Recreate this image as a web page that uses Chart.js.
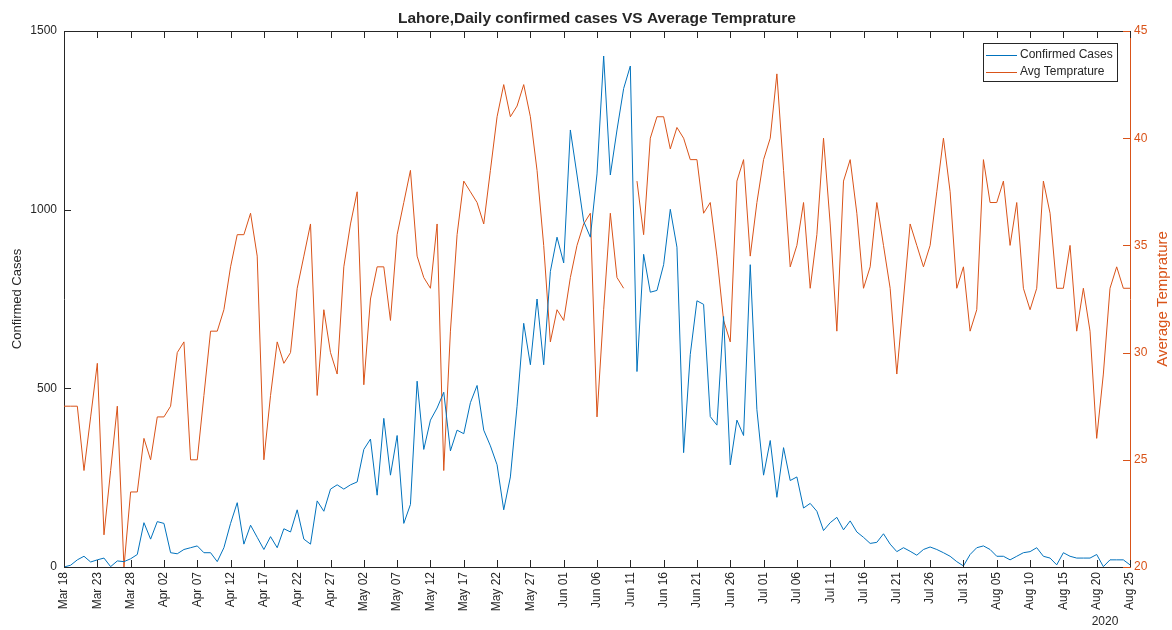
<!DOCTYPE html>
<html>
<head>
<meta charset="utf-8">
<title>Lahore, Daily confirmed cases VS Average Temprature</title>
<script src="https://cdn.jsdelivr.net/npm/chart.js"></script>
<style>
    html, body { margin: 0; padding: 0; background: #fff; }
    #wrap { width: 1172px; height: 630px; }
</style>
</head>
<body>
<div id="wrap"><canvas id="chart" width="1172" height="630"></canvas></div>
<script>
// ===== DATA (one value per day, Mar 18 .. Aug 25 2020) =====

const tickLabels = [
    'Mar 18', 'Mar 23', 'Mar 28', 'Apr 02', 'Apr 07', 'Apr 12', 'Apr 17', 'Apr 22', 'Apr 27',
    'May 02', 'May 07', 'May 12', 'May 17', 'May 22', 'May 27', 'Jun 01', 'Jun 06', 'Jun 11',
    'Jun 16', 'Jun 21', 'Jun 26', 'Jul 01', 'Jul 06', 'Jul 11', 'Jul 16', 'Jul 21', 'Jul 26',
    'Jul 31', 'Aug 05', 'Aug 10', 'Aug 15', 'Aug 20', 'Aug 25'
];

const cases = [
    0, 5, 20, 30, 14, 20, 25, 1, 17, 15,
    23, 35, 124, 78, 127, 122, 40, 37, 49, 54,
    59, 40, 40, 15, 54, 122, 180, 64, 117, 83,
    49, 85, 54, 107, 98, 160, 78, 64, 185, 156,
    218, 230, 218, 230, 238, 329, 358, 201, 416, 257,
    368, 122, 175, 520, 329, 411, 445, 489, 325, 383,
    373, 460, 508, 383, 339, 286, 160, 252, 450, 682,
    566, 750, 566, 827, 923, 851, 1223, 1097, 967, 923,
    1100, 1430, 1097, 1223, 1339, 1402, 547, 875, 769, 774,
    846, 1001, 895, 320, 595, 745, 735, 421, 397, 701,
    286, 411, 368, 846, 440, 257, 354, 195, 334, 242,
    252, 165, 178, 156, 102, 124, 139, 104, 129, 98,
    83, 66, 69, 93, 64, 43, 54, 44, 33, 49,
    56, 49, 40, 30, 15, 3, 35, 54, 59, 49,
    30, 30, 20, 30, 40, 43, 54, 30, 25, 6,
    40, 30, 25, 25, 25, 35, 1, 20, 20, 20,
    6
];

// null = missing reading (gap in the line)
const temps = [
    27.5, 27.5, 27.5, 24.5, 27, 29.5, 21.5, 24.5, 27.5, 20,
    23.5, 23.5, 26, 25, 27, 27, 27.5, 30, 30.5, 25,
    25, 28, 31, 31, 32, 34, 35.5, 35.5, 36.5, 34.5,
    25, 28, 30.5, 29.5, 30, 33, 34.5, 36, 28, 32,
    30, 29, 34, 36, 37.5, 28.5, 32.5, 34, 34, 31.5,
    35.5, 37, 38.5, 34.5, 33.5, 33, 36, 24.5, 31, 35.5,
    38, 37.5, 37, 36, 38.5, 41, 42.5, 41, 41.5, 42.5,
    41, 38.5, 35, 30.5, 32, 31.5, 33.5, 35, 36, 36.5,
    27, 32, 36.5, 33.5, 33, null, 38, 35.5, 40, 41,
    41, 39.5, 40.5, 40, 39, 39, 36.5, 37, 34.5, 31.5,
    30.5, 38, 39, 34.5, 37, 39, 40, 43, 38.5, 34,
    35, 37, 33, 35.5, 40, 36, 31, 38, 39, 36.5,
    33, 34, 37, 35, 33, 29, 32.5, 36, 35, 34,
    35, 37.5, 40, 37.5, 33, 34, 31, 32, 39, 37,
    37, 38, 35, 37, 33, 32, 33, 38, 36.5, 33,
    33, 35, 31, 33, 31, 26, 29, 33, 34, 33,
    33
];

// ===== STYLE =====

const BLUE = '#0072BD';
const ORANGE = '#D95319';
const AXIS = '#262626';
const FONT = '"Liberation Sans", Arial, Helvetica, sans-serif';

// MATLAB-like box: top edge, inward ticks, legend and the loose labels
const matlabAxes = {
    id: 'matlabAxes',
    afterDraw(chart) {
        const { ctx, chartArea: a, scales } = chart;
        const tick = 7;
        ctx.save();
        ctx.lineWidth = 1;

        // top edge of the box
        ctx.strokeStyle = AXIS;
        ctx.beginPath();
        ctx.moveTo(a.left, a.top + 0.5);
        ctx.lineTo(a.right, a.top + 0.5);
        ctx.stroke();

        // x ticks, bottom and top, pointing inward
        ctx.beginPath();
        for (let i = 0; i < tickLabels.length; i++) {
            const px = Math.round(scales.x.getPixelForValue(i * 5)) + 0.5;
            ctx.moveTo(px, a.bottom);
            ctx.lineTo(px, a.bottom - tick);
            ctx.moveTo(px, a.top);
            ctx.lineTo(px, a.top + tick);
        }
        // left ticks
        scales.y.ticks.forEach(t => {
            const py = Math.round(scales.y.getPixelForValue(t.value)) + 0.5;
            ctx.moveTo(a.left, py);
            ctx.lineTo(a.left + tick, py);
        });
        ctx.stroke();

        // right ticks (orange)
        ctx.strokeStyle = ORANGE;
        ctx.beginPath();
        scales.y2.ticks.forEach(t => {
            const py = Math.round(scales.y2.getPixelForValue(t.value)) + 0.5;
            ctx.moveTo(a.right, py);
            ctx.lineTo(a.right - tick, py);
        });
        ctx.stroke();

        // title
        ctx.fillStyle = AXIS;
        ctx.font = 'bold 15.5px ' + FONT;
        ctx.textAlign = 'center';
        ctx.textBaseline = 'middle';
        ctx.fillText('Lahore,Daily confirmed cases VS Average Temprature', (a.left + a.right) / 2, 19);

        // axis titles
        ctx.font = '13px ' + FONT;
        ctx.save();
        ctx.translate(17, (a.top + a.bottom) / 2);
        ctx.rotate(-Math.PI / 2);
        ctx.fillText('Confirmed Cases', 0, 0);
        ctx.restore();

        ctx.fillStyle = ORANGE;
        ctx.font = '15px ' + FONT;
        ctx.save();
        ctx.translate(1163, (a.top + a.bottom) / 2);
        ctx.rotate(-Math.PI / 2);
        ctx.fillText('Average Temprature', 0, 0);
        ctx.restore();

        // year under the last ticks
        ctx.fillStyle = AXIS;
        ctx.font = '12px ' + FONT;
        ctx.fillText('2020', 1105, 622);

        // legend
        const lx = 983, ly = 43, lw = 134, lh = 38;
        ctx.fillStyle = '#fff';
        ctx.fillRect(lx, ly, lw, lh);
        ctx.strokeStyle = AXIS;
        ctx.strokeRect(lx + 0.5, ly + 0.5, lw, lh);
        chart.data.datasets.forEach((ds, i) => {
            const yy = ly + 12 + i * 17;
            ctx.strokeStyle = ds.borderColor;
            ctx.beginPath();
            ctx.moveTo(lx + 3, yy + 0.5);
            ctx.lineTo(lx + 34, yy + 0.5);
            ctx.stroke();
            ctx.fillStyle = AXIS;
            ctx.textAlign = 'left';
            ctx.fillText(ds.label, lx + 37, yy);
        });

        ctx.restore();
    }
};

const ctx = document.getElementById('chart').getContext('2d');

new Chart(ctx, {
    type: 'line',
    data: {
        datasets: [
            {
                label: 'Confirmed Cases',
                data: cases.map((v, i) => ({ x: i, y: v })),
                borderColor: BLUE,
                borderWidth: 1,
                pointRadius: 0,
                tension: 0,
                yAxisID: 'y'
            },
            {
                label: 'Avg Temprature',
                data: temps.map((v, i) => ({ x: i, y: v })),
                borderColor: ORANGE,
                borderWidth: 1,
                pointRadius: 0,
                tension: 0,
                yAxisID: 'y2'
            }
        ]
    },
    options: {
        responsive: false,
        animation: false,
        devicePixelRatio: 1,
        layout: { padding: { top: 31, left: 0, right: 0, bottom: 0 } },
        plugins: {
            legend: { display: false },
            title: { display: false },
            tooltip: { enabled: false }
        },
        scales: {
            x: {
                type: 'linear',
                min: 0,
                max: 160,
                grid: { display: false, drawTicks: false },
                border: { color: AXIS },
                ticks: {
                    stepSize: 5,
                    autoSkip: false,
                    minRotation: 90,
                    maxRotation: 90,
                    padding: 5,
                    color: AXIS,
                    font: { family: FONT, size: 12 },
                    callback: (value) => tickLabels[value / 5]
                },
                afterFit: (s) => { s.height = 63; }
            },
            y: {
                position: 'left',
                min: 0,
                max: 1500,
                grid: { display: false, drawTicks: false },
                border: { color: AXIS },
                ticks: {
                    stepSize: 500,
                    padding: 7,
                    color: AXIS,
                    font: { family: FONT, size: 12 },
                    callback: (value) => String(value)
                },
                afterFit: (s) => { s.width = 64; }
            },
            y2: {
                position: 'right',
                min: 20,
                max: 45,
                grid: { display: false, drawTicks: false },
                border: { color: ORANGE },
                ticks: {
                    stepSize: 5,
                    padding: 4,
                    color: ORANGE,
                    font: { family: FONT, size: 12 }
                },
                afterFit: (s) => { s.width = 42; }
            }
        }
    },
    plugins: [matlabAxes]
});
</script>
</body>
</html>
